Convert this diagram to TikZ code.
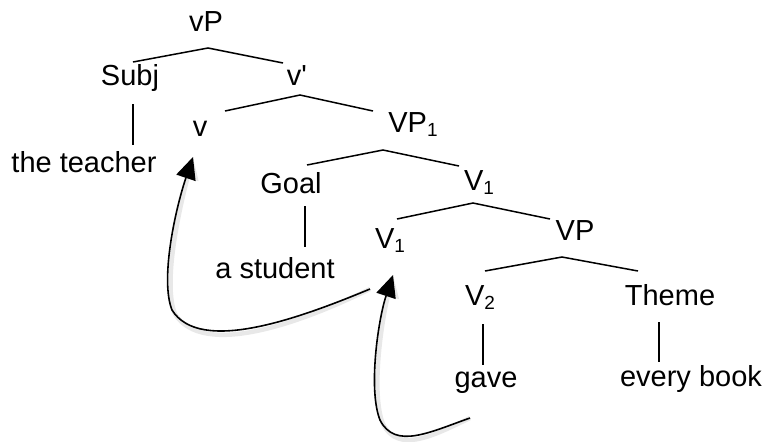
\documentclass[tikz,border=0pt]{standalone}
\usepackage{fontspec}
\setmainfont{Liberation Sans}
\usetikzlibrary{arrows.meta}
\newcommand\mysub[1]{\raisebox{-2pt}{\fontsize{9.5}{11}\selectfont #1}}
\begin{document}
\begin{tikzpicture}[x=0.5pt,y=-0.5pt,
  lab/.style={anchor=base,inner sep=0pt,font=\fontsize{14.5}{17}\selectfont},
  branch/.style={line width=0.75pt},
  move/.style={line width=0.8pt,-{Triangle[length=11pt,width=10pt]}},
  mshadow/.style={line width=2.2pt,draw=black!15,opacity=0.6,
     -{Triangle[length=11pt,width=11pt,fill=black!15]}}]
\useasboundingbox (0,0) rectangle (766,441);
% nodes
\node[lab] (vP) at (206,31) {vP};
\node[lab] (Subj) at (130,85) {Subj};
\node[lab] (vbar) at (297,85) {v\textquotesingle};
\node[lab] (teacher) at (84,172) {the teacher};
\node[lab] (v) at (200,136) {v};
\node[lab] (VPone) at (413,132) {VP\mysub{1}};
\node[lab] (Goal) at (291,193) {Goal};
\node[lab] (Vone) at (479,190) {V\mysub{1}};
\node[lab] (student) at (275,278) {a student};
\node[lab] (Vonelow) at (390,248) {V\mysub{1}};
\node[lab] (VP) at (575,240) {VP};
\node[lab] (Vtwo) at (480,305) {V\mysub{2}};
\node[lab] (Theme) at (670,305) {Theme};
\node[lab] (gave) at (486,387) {gave};
\node[lab] (book) at (691,386) {every book};
% branch points
\coordinate (vP-b) at (208,48);
\coordinate (Subj-t) at (133,62);
\coordinate (vbar-t) at (283,63);
\coordinate (vbar-b) at (300,95);
\coordinate (v-t) at (225,111);
\coordinate (VPone-t) at (373,111);
\coordinate (VPone-b) at (383,150);
\coordinate (Goal-t) at (307,165);
\coordinate (Vone-t) at (459,166);
\coordinate (Vone-b) at (473,203);
\coordinate (Vonelow-t) at (397,219);
\coordinate (VP-t) at (550,219);
\coordinate (VP-b) at (562,257);
\coordinate (Vtwo-t) at (485,271);
\coordinate (Theme-t) at (638,271);
\coordinate (Subj-b) at (133,104);
\coordinate (teacher-t) at (133,145);
\coordinate (Goal-b) at (305,206);
\coordinate (student-t) at (305,247);
\coordinate (Vtwo-b) at (483,324);
\coordinate (gave-t) at (483,365);
\coordinate (Theme-b) at (659,322);
\coordinate (book-t) at (659,362);
% branches
\draw[branch] (Subj-t) -- (vP-b) -- (vbar-t);
\draw[branch] (v-t) -- (vbar-b) -- (VPone-t);
\draw[branch] (Goal-t) -- (VPone-b) -- (Vone-t);
\draw[branch] (Vonelow-t) -- (Vone-b) -- (VP-t);
\draw[branch] (Vtwo-t) -- (VP-b) -- (Theme-t);
\draw[branch] (Subj-b) -- (teacher-t);
\draw[branch] (Goal-b) -- (student-t);
\draw[branch] (Vtwo-b) -- (gave-t);
\draw[branch] (Theme-b) -- (book-t);
% movement arrows
\coordinate (m1s) at (370,289);
\coordinate (m1e) at (193,157);
\coordinate (m2s) at (470,418);
\coordinate (m2e) at (393,275);
\begin{scope}[shift={(3,4)}]
\draw[mshadow] (m1s) .. controls (300,318) and (200,355) .. (172,310) .. controls (160,280) and (175,210) .. (m1e);
\draw[mshadow] (m2s) .. controls (430,432) and (395,450) .. (380,420) .. controls (368,390) and (378,320) .. (m2e);
\end{scope}
\draw[move] (m1s) .. controls (300,318) and (200,355) .. (172,310) .. controls (160,280) and (175,210) .. (m1e);
\draw[move] (m2s) .. controls (430,432) and (395,450) .. (380,420) .. controls (368,390) and (378,320) .. (m2e);
\end{tikzpicture}
\end{document}
